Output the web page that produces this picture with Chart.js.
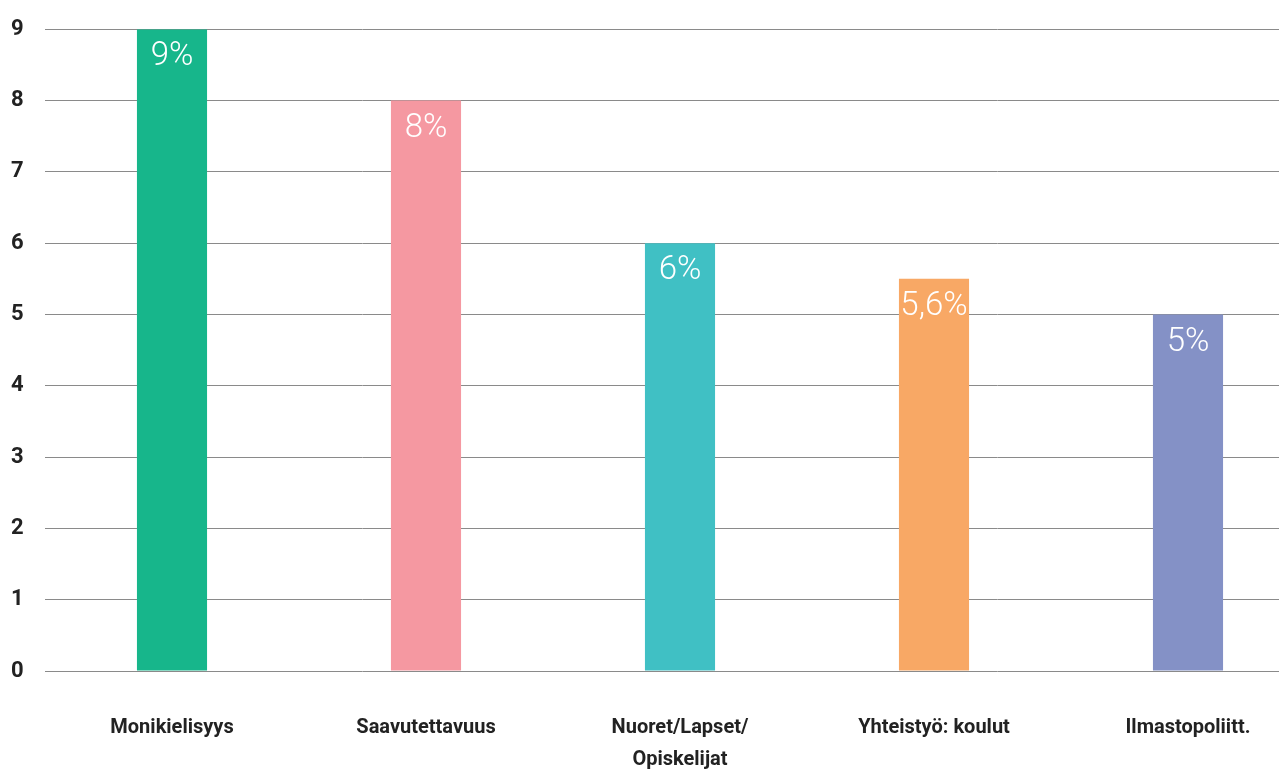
<!DOCTYPE html>
<html>
<head>
<meta charset="utf-8">
<script src="https://cdn.jsdelivr.net/npm/chart.js@4/dist/chart.umd.min.js"></script>
<style>
  body { margin: 0; background: #fff; overflow: hidden; }
  #wrap { width: 1315px; height: 771px; }
</style>
</head>
<body>
<div id="wrap"><canvas id="chart"></canvas></div>
<script>
const categories = ['Monikielisyys', 'Saavutettavuus', ['Nuoret/Lapset/', 'Opiskelijat'], 'Yhteistyö: koulut', 'Ilmastopoliitt.'];
const values = [9, 8, 6, 5.5, 5];
const valueLabels = ['9%', '8%', '6%', '5,6%', '5%'];
const barColors = ['#17b68b', '#f598a1', '#40c0c4', '#f8a865', '#8491c6'];

const labelFont = 'Roboto, "DejaVu Sans", sans-serif';

// white value labels near the top of each bar
const barLabels = {
  id: 'barLabels',
  afterDatasetsDraw(chart) {
    const ctx = chart.ctx;
    const meta = chart.getDatasetMeta(0);
    ctx.save();
    ctx.fillStyle = '#fff';
    ctx.font = '300 33px ' + labelFont;
    ctx.textAlign = 'center';
    ctx.textBaseline = 'middle';
    meta.data.forEach((bar, i) => {
      ctx.fillText(valueLabels[i], bar.x, bar.y + 28);
    });
    ctx.restore();
  }
};

new Chart(document.getElementById('chart'), {
  type: 'bar',
  data: {
    labels: categories,
    datasets: [{
      data: values,
      backgroundColor: barColors,
      barPercentage: 0.276,
      categoryPercentage: 1
    }]
  },
  options: {
    responsive: true,
    maintainAspectRatio: false,
    animation: false,
    layout: { padding: { top: 0, right: 0, left: 11, bottom: 0 } },
    plugins: {
      legend: { display: false },
      tooltip: { enabled: false }
    },
    scales: {
      x: {
        grid: { display: false },
        border: { display: false },
        ticks: {
          color: '#222',
          font: { family: labelFont, size: 20, weight: 'bold', lineHeight: 1.6 },
          padding: 33,
          maxRotation: 0
        },
        afterFit(scale) { scale.height = 100; }
      },
      y: {
        min: 0,
        max: 9,
        border: { display: false },
        grid: { color: '#8a8a8a', lineWidth: 1, drawTicks: false },
        ticks: {
          stepSize: 1,
          color: '#222',
          font: { family: labelFont, size: 22, weight: 'bold' },
          crossAlign: 'far',
          padding: 16
        },
        afterFit(scale) { scale.width = 34; }
      }
    }
  },
  plugins: [barLabels]
});
</script>
</body>
</html>
